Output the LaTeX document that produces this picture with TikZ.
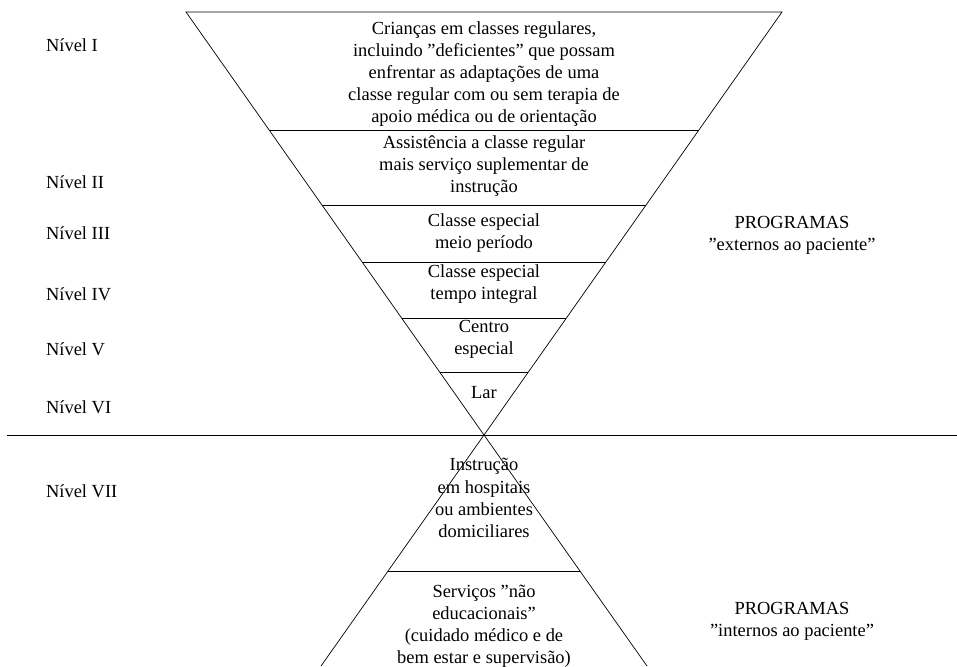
\documentclass[tikz,border=0pt]{standalone}
\usepackage{fontspec}
\setmainfont{Liberation Serif}
\usetikzlibrary{calc}

\begin{document}
\begin{tikzpicture}[x=0.2mm, y=-0.2mm,
	every node/.style={font=\fontsize{10.5}{12.6}\selectfont, inner sep=1pt},
	bloco/.style={align=center},
	nivel/.style={anchor=west}]
	\useasboundingbox (0,0) rectangle (957,666);
	% the two triangles
	\coordinate (tl) at (186,12);
	\coordinate (tr) at (782,12);
	\coordinate (apex) at (484,435);
	\coordinate (bl) at (321,666);
	\coordinate (br) at (647,666);
	\draw (tl) -- (tr) -- (apex) -- cycle;
	\draw (bl) -- (apex) -- (br);
	\foreach \t in {0.721,0.5437,0.409,0.2766,0.149}
		\draw ($(apex)!\t!(tl)$) -- ($(apex)!\t!(tr)$);
	\draw ($(apex)!0.5887!(bl)$) -- ($(apex)!0.5887!(br)$);
	\draw (7,435) -- (957,435);
	% levels
	\node[bloco] (n1) at (484,74) {Crianças em classes regulares,\\incluindo "deficientes" que possam\\enfrentar as adaptações de uma\\classe regular com ou sem terapia de\\apoio médica ou de orientação};
	\node[bloco] (n2) at (484,166) {Assistência a classe regular\\mais serviço suplementar de\\instrução};
	\node[bloco] (n3) at (484,233) {Classe especial\\meio período};
	\node[bloco] (n4) at (484,284) {Classe especial\\tempo integral};
	\node[bloco] (n5) at (484,339) {Centro\\especial};
	\node[bloco] (n6) at (484,393) {Lar};
	\node[bloco] (n7) at (484,498) {Instrução\\em hospitais\\ou ambientes\\domiciliares};
	\node[bloco] (n8) at (484,626) {Serviços "não\\educacionais"\\(cuidado médico e de\\bem estar e supervisão)};
	% labels at the left
	\node[nivel] (l1) at (44,45) {Nível I};
	\node[nivel] (l2) at (44,182) {Nível II};
	\node[nivel] (l3) at (44,233) {Nível III};
	\node[nivel] (l4) at (44,294) {Nível IV};
	\node[nivel] (l5) at (44,349) {Nível V};
	\node[nivel] (l6) at (44,407) {Nível VI};
	\node[nivel] (l7) at (44,491) {Nível VII};
	% programs
	\node[bloco] (pe) at (792,235) {PROGRAMAS\\"externos ao paciente"};
	\node[bloco] (pi) at (792,621) {PROGRAMAS\\"internos ao paciente"};
\end{tikzpicture}
\end{document}
